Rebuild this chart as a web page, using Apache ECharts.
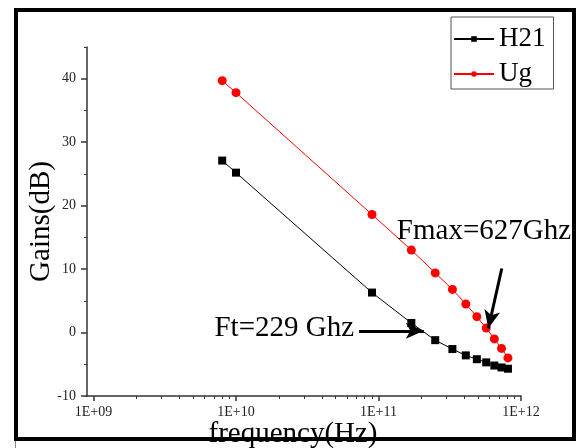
<!DOCTYPE html>
<html>
<head>
<meta charset="utf-8">
<script src="https://cdn.jsdelivr.net/npm/echarts@6/dist/echarts.min.js"></script>
<style>
  html, body { margin: 0; padding: 0; background: #fff; }
  #chart { width: 577px; height: 448px; }
</style>
</head>
<body>
<div id="chart"></div>
<script>
// Frequency sweep points (Hz)
const freqHz = [8e9, 1e10, 9e10, 1.7e11, 2.5e11, 3.3e11, 4.1e11, 4.9e11, 5.7e11, 6.5e11, 7.3e11, 8.1e11];
// Current gain |H21| (dB)
const h21 = [27.1, 25.2, 6.3, 1.5, -1.2, -2.6, -3.6, -4.2, -4.7, -5.2, -5.5, -5.7];
// Unilateral gain Ug (dB)
const ug = [39.7, 37.8, 18.6, 13.0, 9.4, 6.8, 4.5, 2.5, 0.7, -1.0, -2.5, -4.0];

// Axis ticks
const xMajorTicks = [1e9, 1e10, 1e11, 1e12];
const xTickLabels = ['1E+09', '1E+10', '1E+11', '1E+12'];
const xMinorTicks = [2e9, 3e9, 4e9, 5e9, 6e9, 7e9, 8e9, 9e9,
                     2e10, 3e10, 4e10, 5e10, 6e10, 7e10, 8e10, 9e10,
                     2e11, 3e11, 4e11, 5e11, 6e11, 7e11, 8e11, 9e11];
const yMajorTicks = [-10, 0, 10, 20, 30, 40];
const yMinorTicks = [-5, 5, 15, 25, 35, 45];

const serif = "'Liberation Serif', 'Times New Roman', serif";

const chart = echarts.init(document.getElementById('chart'), null, { renderer: 'canvas' });

function pairs(xs, ys) { return xs.map((x, i) => [x, ys[i]]); }

function xLabel(v) {
  const i = xMajorTicks.findIndex(t => Math.abs(Math.log10(t) - Math.log10(v)) < 1e-6);
  return i >= 0 ? xTickLabels[i] : '';
}

const axisLineStyle = { color: '#333', width: 1.5 };

chart.setOption({
  backgroundColor: '#fff',
  animation: false,
  grid: { left: 87, right: 56, top: 47, bottom: 52, containLabel: false, outerBoundsMode: 'none' },
  xAxis: [
    {
      type: 'log', logBase: 10, min: 9e8, max: 1e12,
      name: 'frequency(Hz)', nameLocation: 'middle', nameGap: 24, nameMoveOverlap: false,
      nameTextStyle: { fontFamily: serif, fontSize: 29, color: '#000', padding: [0, 22, 0, 0] },
      axisLine: { show: true, onZero: false, lineStyle: axisLineStyle },
      axisTick: { show: true, length: 5, lineStyle: axisLineStyle, customValues: xMajorTicks },
      minorTick: { show: false },
      splitLine: { show: false },
      axisLabel: {
        customValues: xMajorTicks, formatter: xLabel, margin: 9,
        fontFamily: serif, fontSize: 14, color: '#222'
      }
    },
    {
      type: 'log', logBase: 10, min: 9e8, max: 1e12, position: 'bottom',
      axisLine: { show: false, onZero: false },
      axisTick: { show: true, length: 3, lineStyle: { color: '#333', width: 1 }, customValues: xMinorTicks },
      axisLabel: { show: false },
      splitLine: { show: false }
    }
  ],
  yAxis: [
    {
      type: 'value', min: -10, max: 45,
      name: 'Gains(dB)', nameLocation: 'middle', nameGap: 31, nameMoveOverlap: false,
      nameTextStyle: { fontFamily: serif, fontSize: 29, color: '#000' },
      axisLine: { show: true, onZero: false, lineStyle: axisLineStyle },
      axisTick: { show: true, length: 6, lineStyle: axisLineStyle, customValues: yMajorTicks },
      splitLine: { show: false },
      axisLabel: {
        customValues: yMajorTicks, margin: 11,
        fontFamily: serif, fontSize: 14, color: '#222'
      }
    },
    {
      type: 'value', min: -10, max: 45, position: 'left',
      axisLine: { show: false, onZero: false },
      axisTick: { show: true, length: 3, lineStyle: { color: '#333', width: 1 }, customValues: yMinorTicks },
      axisLabel: { show: false },
      splitLine: { show: false }
    }
  ],
  legend: {
    left: 451, top: 17, orient: 'vertical',
    itemWidth: 40, itemHeight: 7, itemGap: 7,
    padding: [8, 8, 1, 2],
    borderColor: '#555', borderWidth: 1,
    textStyle: { fontFamily: serif, fontSize: 27, color: '#000', lineHeight: 28 },
    data: ['H21', 'Ug']
  },
  series: [
    {
      name: 'H21', type: 'line', xAxisIndex: 0, yAxisIndex: 0,
      data: pairs(freqHz, h21),
      symbol: 'rect', symbolSize: 8,
      itemStyle: { color: '#000' },
      lineStyle: { color: '#000', width: 1 },
      z: 3,
      markLine: {
        silent: true, animation: false,
        symbol: ['none', 'arrow'], symbolSize: [12, 18],
        lineStyle: { color: '#000', width: 3, type: 'solid' },
        label: { show: false },
        data: [
          [{ coord: [7.3e10, 0.28] }, { coord: [2.08e11, 0.28] }],
          [{ coord: [7.33e11, 10.1] }, { coord: [5.9e11, 0.66] }]
        ]
      },
      markPoint: {
        silent: true, animation: false,
        symbol: 'circle', symbolSize: 0,
        itemStyle: { color: 'transparent' },
        label: {
          show: true, position: 'right', distance: 0,
          fontFamily: serif, fontSize: 29, color: '#000',
          formatter: p => p.name
        },
        data: [
          { name: 'Ft=229 Ghz', coord: [7.06e9, 0.6] },
          { name: 'Fmax=627Ghz', coord: [1.345e11, 16.0] }
        ]
      }
    },
    {
      name: 'Ug', type: 'line', xAxisIndex: 0, yAxisIndex: 0,
      data: pairs(freqHz, ug),
      symbol: 'circle', symbolSize: 9,
      itemStyle: { color: '#ff0000' },
      lineStyle: { color: '#ff0000', width: 1 },
      z: 3
    }
  ],
  graphic: [
    {
      type: 'rect', z: 100, silent: true,
      shape: { x: 16, y: 10, width: 558, height: 429 },
      style: { fill: 'none', stroke: '#000', lineWidth: 4 }
    },
    {
      type: 'line', z: 100, silent: true,
      shape: { x1: 15.5, y1: 441, x2: 15.5, y2: 448 },
      style: { stroke: '#888', lineWidth: 1 }
    }
  ]
});
</script>
</body>
</html>
